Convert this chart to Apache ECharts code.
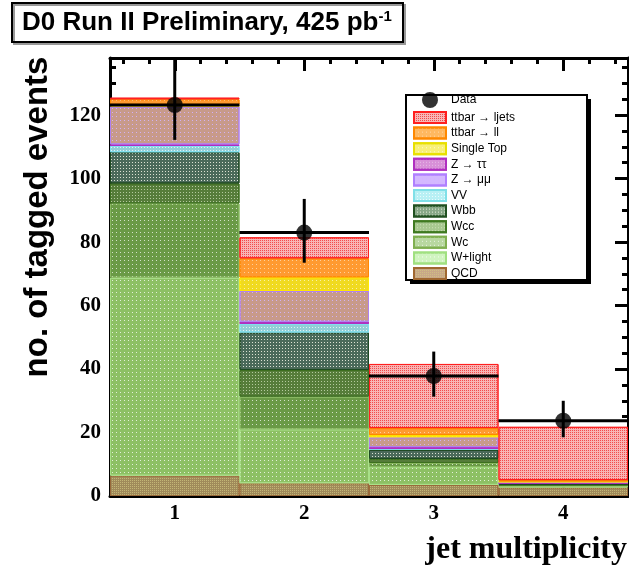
<!DOCTYPE html>
<html><head><meta charset="utf-8">
<script src="https://cdn.jsdelivr.net/npm/echarts@6/dist/echarts.min.js"></script>
<style>html,body{margin:0;padding:0;background:#fff}#c{width:629px;height:579px}</style>
</head><body><div id="c"></div>
<script>
// ---- data ----
const bins = ['1', '2', '3', '4'];
const binCenters = [1, 2, 3, 4];
const qcd       = [6.4, 4.0, 3.5, 2.7];
const wlight    = [62.4, 17.0, 5.6, 0.4];
const wc        = [23.4, 10.3, 1.3, 0.3];
const wcc       = [6.3, 8.4, 1.3, 0.2];
const wbb       = [9.8, 11.8, 2.8, 0.3];
const vv        = [2.0, 2.7, 0.3, 0.1];
const ztautau   = [0.5, 0.7, 0.6, 0.1];
const zmumu     = [11.9, 9.7, 3.1, 0.3];
const singleTop = [0.6, 4.3, 0.7, 0.2];
const ttll      = [1.7, 6.0, 2.2, 0.4];
const ttlj      = [0.5, 6.6, 20.2, 16.8];
const dataVals    = [123.2, 83.0, 37.8, 23.7];
const dataErrLow  = [11.0, 9.5, 6.5, 5.2];
const dataErrHigh = [14.5, 10.6, 7.7, 6.3];
const yTickLabels = [0, 20, 40, 60, 80, 100, 120];
const xTickLabels = [1, 2, 3, 4];
const legendOrder = ['ttbar \u2192 ljets', 'ttbar \u2192 ll', 'Single Top', 'Z \u2192 \u03c4\u03c4',
  'Z \u2192 \u03bc\u03bc', 'VV', 'Wbb', 'Wcc', 'Wc', 'W+light', 'QCD'];

// ---- styling ----
function dots(color, gap) {
  return { symbol: 'rect', symbolSize: 1, dashArrayX: [1, gap], dashArrayY: [1, gap], color: color };
}
const stackDefs = [
  { name: 'QCD',          data: qcd,       color: '#a08a5a', border: '#9a6a3a', decal: dots('rgba(210,200,130,0.7)', 1), leg: ['#c8a888', '#a06830'] },
  { name: 'W+light',      data: wlight,    color: '#8dc064', border: '#a8e088', decal: dots('rgba(255,255,255,0.75)', 3), leg: ['#d0f4c0', '#a0e080'] },
  { name: 'Wc',           data: wc,        color: '#6a9a46', border: '#88b860', decal: dots('rgba(255,255,255,0.7)', 3), leg: ['#b8d8a0', '#80b050'] },
  { name: 'Wcc',          data: wcc,       color: '#567d3a', border: '#3e7020', decal: dots('rgba(220,235,200,0.7)', 2), leg: ['#a8c890', '#3f7a20'] },
  { name: 'Wbb',          data: wbb,       color: '#4a6a5a', border: '#1e4a22', decal: dots('rgba(255,255,240,0.8)', 2), leg: ['#88a888', '#205020'] },
  { name: 'VV',           data: vv,        color: '#92cfd6', border: '#80e0f0', decal: dots('rgba(255,255,255,0.7)', 2), leg: ['#b8f0f4', '#80e0e8'] },
  { name: 'Z \u2192 \u03c4\u03c4', data: ztautau, color: '#b040c0', border: '#b030c0', decal: dots('rgba(255,255,255,0.4)', 2), leg: ['#d890d8', '#b030c0'] },
  { name: 'Z \u2192 \u03bc\u03bc', data: zmumu, color: '#c89a8a', border: '#b080f0', decal: dots('rgba(210,180,255,0.9)', 3), leg: ['#d4b8ff', '#b080ff'] },
  { name: 'Single Top',   data: singleTop, color: '#f0da20', border: '#ffe800', decal: dots('rgba(255,255,255,0.6)', 3), leg: ['#f8f078', '#e8e000'] },
  { name: 'ttbar \u2192 ll',    data: ttll, color: '#ff9a30', border: '#ff8800', decal: dots('rgba(255,230,200,0.7)', 3), leg: ['#ffb860', '#ff8800'] },
  { name: 'ttbar \u2192 ljets', data: ttlj, color: '#f8b4b4', border: '#ff2020', decal: dots('rgba(240,40,40,0.75)', 1), leg: ['#f7b8b8', '#ff2020'] }
];

const barSeries = stackDefs.map(d => ({
  type: 'bar', name: d.name, stack: 'mc', xAxisIndex: 0, yAxisIndex: 0,
  barCategoryGap: 0, barGap: 0, data: d.data,
  itemStyle: { color: d.color, borderColor: d.border, borderWidth: 1, decal: d.decal },
  emphasis: { disabled: true }, z: 2
}));

const dataPoints = dataVals.map((v, i) => [binCenters[i], v]);
const errData = dataVals.map((v, i) => [binCenters[i], v, v - dataErrLow[i], v + dataErrHigh[i]]);

const tickStyle = { show: true, inside: true, length: 13, lineStyle: { color: '#000', width: 3 } };
const minorStyle = { show: true, length: 6, lineStyle: { color: '#000', width: 3 } };
const labFont = { color: '#000', fontFamily: 'Liberation Serif', fontWeight: 'bold', fontSize: 21 };

const chart = echarts.init(document.getElementById('c'), null, { renderer: 'canvas' });
chart.setOption({
  animation: false,
  backgroundColor: '#fff',
  title: {
    text: 'D0 Run II Preliminary, 425 pb{s|-1}',
    left: 12, top: 3,
    padding: [6, 12, 5, 10],
    borderColor: '#000', borderWidth: 2, backgroundColor: '#fff',
    shadowColor: '#999', shadowOffsetX: 2, shadowOffsetY: 2, shadowBlur: 0,
    textStyle: {
      fontFamily: 'Liberation Sans', fontWeight: 'bold', fontSize: 26, color: '#000', lineHeight: 28,
      rich: { s: { fontFamily: 'Liberation Sans', fontWeight: 'bold', fontSize: 15, color: '#000', verticalAlign: 'top', lineHeight: 15 } }
    }
  },
  grid: { left: 110, right: 1, top: 58, bottom: 83, containLabel: false },
  xAxis: [
    { type: 'category', data: bins, show: false, boundaryGap: true },
    { type: 'value', position: 'bottom', min: 0.5, max: 4.5, splitNumber: 4,
      axisLine: { show: true, lineStyle: { color: '#000', width: 3 } },
      axisTick: tickStyle, minorTick: Object.assign({ splitNumber: 5 }, minorStyle),
      splitLine: { show: false },
      axisLabel: Object.assign({ margin: 7, showMinLabel: false, showMaxLabel: false,
        formatter: v => (xTickLabels.indexOf(v) >= 0 ? String(v) : '') }, labFont) },
    { type: 'value', position: 'top', min: 0.5, max: 4.5, splitNumber: 4,
      axisLine: { show: true, lineStyle: { color: '#000', width: 3 } },
      axisTick: tickStyle, minorTick: Object.assign({ splitNumber: 5 }, minorStyle),
      splitLine: { show: false }, axisLabel: { show: false } }
  ],
  yAxis: [
    { type: 'value', position: 'left', min: 0, max: 138, interval: 20,
      axisLine: { show: true, lineStyle: { color: '#000', width: 3 } },
      axisTick: tickStyle, minorTick: Object.assign({ splitNumber: 4 }, minorStyle),
      splitLine: { show: false },
      axisLabel: Object.assign({ margin: 9, showMaxLabel: false,
        formatter: v => (yTickLabels.indexOf(v) >= 0 ? String(v) : '') }, labFont) },
    { type: 'value', position: 'right', min: 0, max: 138, interval: 20,
      axisLine: { show: true, lineStyle: { color: '#000', width: 3 } },
      axisTick: tickStyle, minorTick: Object.assign({ splitNumber: 4 }, minorStyle),
      splitLine: { show: false }, axisLabel: { show: false } }
  ],
  legend: [
    { data: [{ name: 'Data', icon: 'circle' }], orient: 'vertical', left: 422, top: 92, padding: 0,
      itemWidth: 32, itemHeight: 16, selectedMode: false, z: 10,
      textStyle: { fontFamily: 'Liberation Sans', fontSize: 12, color: '#000' } },
    { data: legendOrder.map(n => { const d = stackDefs.find(s => s.name === n);
        return { name: n, icon: 'rect', itemStyle: { color: d.leg[0], borderColor: d.leg[1], borderWidth: 2 } }; }),
      orient: 'vertical', left: 413, top: 111, padding: 0, itemWidth: 32, itemHeight: 11, itemGap: 2.6,
      selectedMode: false, z: 10,
      textStyle: { fontFamily: 'Liberation Sans', fontSize: 12, color: '#000', lineHeight: 13 } }
  ],
  graphic: [
    { type: 'rect', z: 5, shape: { x: 410, y: 99, width: 181, height: 185 }, style: { fill: '#000' } },
    { type: 'rect', z: 6, shape: { x: 406, y: 95, width: 181, height: 185 }, style: { fill: '#fff', stroke: '#000', lineWidth: 2 } },
    { type: 'text', z: 10, x: 38, y: 217, rotation: Math.PI / 2,
      style: { text: 'no. of tagged events', textAlign: 'center', textVerticalAlign: 'middle',
        align: 'center', verticalAlign: 'middle',
        font: 'bold 33px "Liberation Sans"', fill: '#000' } },
    { type: 'text', z: 10, x: 627, y: 550,
      style: { text: 'jet multiplicity', textAlign: 'right', textVerticalAlign: 'middle',
        align: 'right', verticalAlign: 'middle',
        font: 'bold 32px "Liberation Serif"', fill: '#000' } }
  ],
  series: barSeries.concat([
    { type: 'custom', name: 'Data err', xAxisIndex: 1, yAxisIndex: 0, z: 8, silent: true,
      data: errData, encode: { x: 0, y: 1 },
      renderItem: function (params, api) {
        const x = api.value(0), y = api.value(1), lo = api.value(2), hi = api.value(3);
        const a = api.coord([x, lo]), b = api.coord([x, hi]);
        const l = api.coord([x - 0.5, y]), r = api.coord([x + 0.5, y]);
        return { type: 'group', children: [
          { type: 'line', shape: { x1: a[0], y1: a[1], x2: b[0], y2: b[1] }, style: { stroke: '#000', lineWidth: 3 } },
          { type: 'line', shape: { x1: l[0], y1: l[1], x2: r[0], y2: r[1] }, style: { stroke: '#000', lineWidth: 3 } }
        ] };
      } },
    { type: 'scatter', name: 'Data', xAxisIndex: 1, yAxisIndex: 0, z: 9,
      data: dataPoints, symbol: 'circle', symbolSize: 16, itemStyle: { color: '#000' } }
  ])
});
</script></body></html>
